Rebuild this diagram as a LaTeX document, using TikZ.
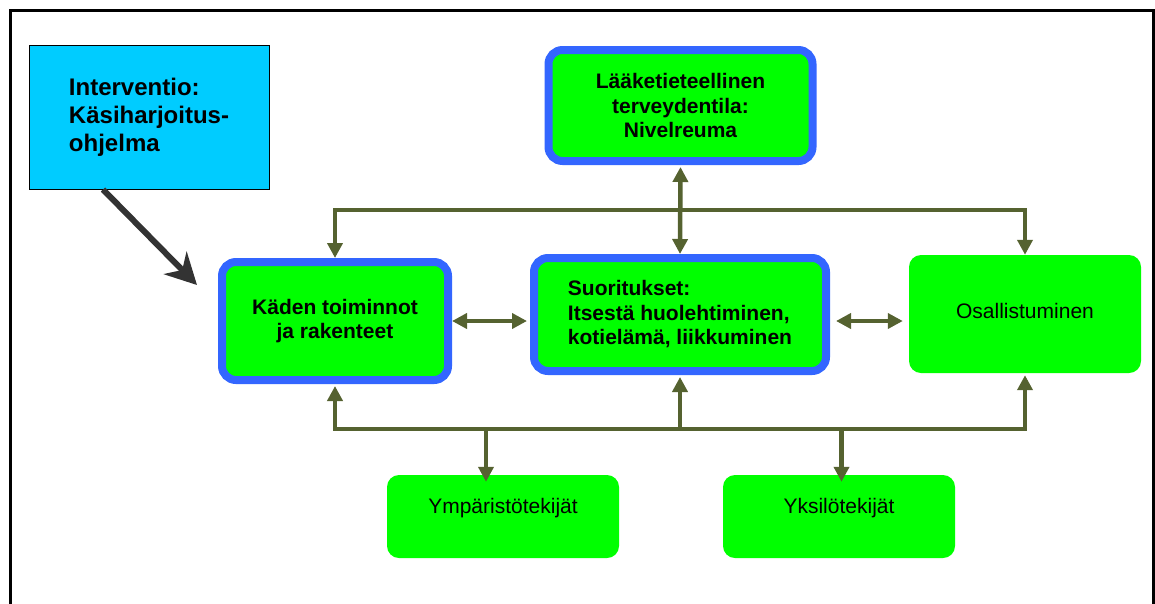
\documentclass[tikz,border=0pt]{standalone}
\usepackage{fontspec}
\setmainfont{Liberation Sans}
\usepackage{tikz}
\usetikzlibrary{arrows.meta,positioning,calc}
\usepackage{xcolor}
\definecolor{boxgreen}{HTML}{00FF00}
\definecolor{boxblue}{HTML}{3366FF}
\definecolor{boxcyan}{HTML}{00CCFF}
\definecolor{olive}{RGB}{85,98,48}
\definecolor{darkarrow}{HTML}{333333}

\begin{document}
\begin{tikzpicture}[x=1pt,y=-1pt,
  keybox/.style={draw=boxblue,line width=8pt,fill=boxgreen,rounded corners=14pt,
    align=center,font=\fontsize{21}{24.5}\selectfont\bfseries},
  plainbox/.style={fill=boxgreen,rounded corners=12pt,inner sep=0pt,
    font=\fontsize{21}{24}\selectfont},
  flow/.style={draw=olive,line width=4.5pt,>={Triangle[length=15pt,width=15pt]}}]
  \useasboundingbox (0,0) rectangle (1155,603);
  % kehys
  \draw[line width=3pt] (10,620) -- (10,10) -- (1153,10) -- (1153,620);

  % interventio
  \node[draw=black,line width=1pt,fill=boxcyan,minimum width=240pt,minimum height=144pt,
    align=left,font=\fontsize{24}{28}\selectfont\bfseries] (interv) at (149,117)
    {Interventio:\\Käsiharjoitus-\\ohjelma};

  % laatikot
  \node[keybox,minimum width=264pt,minimum height=111pt] (medi) at (680.5,105.5)
    {Lääketieteellinen\\terveydentila:\\Nivelreuma};
  \node[keybox,minimum width=226pt,minimum height=118pt] (kaden) at (335,321)
    {Käden toiminnot\\ja rakenteet};
  \node[keybox,align=left,minimum width=292pt,minimum height=113pt] (suor) at (680,314.5)
    {Suoritukset:\\Itsestä huolehtiminen,\\kotielämä, liikkuminen};
  \node[plainbox,minimum width=232pt,text height=63pt,text depth=55pt] (osal) at (1025,314)
    {Osallistuminen};
  \node[plainbox,minimum width=232pt,text height=38pt,text depth=45pt] (ymp) at (503,516.5)
    {Ympäristötekijät};
  \node[plainbox,minimum width=232pt,text height=38pt,text depth=45pt] (yks) at (839,516.5)
    {Yksilötekijät};

  \coordinate (topbus) at (680.5,210);
  \coordinate (botbus) at (680,429);

  % interventio -> käden toiminnot
  \draw[darkarrow,line width=6pt,-{Stealth[length=31pt,width=32pt,inset=10pt]}]
    ([xshift=-46pt]interv.south) -- ([xshift=-21pt,yshift=-27pt]kaden.north west);

  % yläkisko
  \draw[flow,<->] (kaden.north) |- (topbus) -| (osal.north);
  \draw[flow,<->,shorten <=2pt] (medi.south) -- (suor.north);

  % vaakanuolet
  \draw[flow,<->,shorten >=3pt] (kaden.east) -- (kaden.east -| suor.west);
  \draw[flow,<->,shorten <=6pt,shorten >=6pt] (suor.east |- kaden.east) -- (osal.west |- kaden.east);

  % alakisko
  \draw[flow,<->,shorten <=2pt,shorten >=2pt] (kaden.south) |- (botbus) -| (osal.south);
  \draw[flow,->,shorten >=2pt] (botbus) -- (suor.south);
  \draw[flow,->,shorten >=-7pt] ([xshift=-17pt]ymp.north |- botbus) -- ([xshift=-17pt]ymp.north);
  \draw[flow,->,shorten >=-7pt] ([xshift=2.5pt]yks.north |- botbus) -- ([xshift=2.5pt]yks.north);
\end{tikzpicture}
\end{document}
